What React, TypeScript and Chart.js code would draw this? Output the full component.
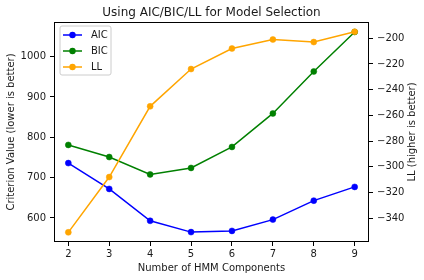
import React, { useEffect, useRef } from "react";
import { Chart, registerables } from "chart.js";

Chart.register(...registerables);

const components = [2, 3, 4, 5, 6, 7, 8, 9];
const aicValues = [736, 672, 593, 565, 568, 596, 643, 677];
const bicValues = [781, 751, 708, 724, 776, 859, 963, 1061];
const llValues = [-351, -308, -253, -224, -208, -201, -203, -195];
const leftTicks = [600, 700, 800, 900, 1000];
const rightTicks = [-340, -320, -300, -280, -260, -240, -220, -200];

const titleText = "Using AIC/BIC/LL for Model Selection";
const xLabel = "Number of HMM Components";
const yLeftLabel = "Criterion Value (lower is better)";
const yRightLabel = "LL (higher is better)";

const FONT = "'DejaVu Sans', sans-serif";
const TEXT = "#1a1a1a";

const frameAndLegend = {
  id: "frameAndLegend",
  afterDatasetsDraw(chart: any) {
    const { ctx, chartArea } = chart;
    ctx.save();
    // frame
    ctx.strokeStyle = "#000";
    ctx.lineWidth = 1;
    ctx.strokeRect(
      Math.round(chartArea.left) + 0.5,
      Math.round(chartArea.top) + 0.5,
      Math.round(chartArea.right - chartArea.left) - 1,
      Math.round(chartArea.bottom - chartArea.top) - 1
    );
    // title
    ctx.fillStyle = TEXT;
    ctx.font = `12px ${FONT}`;
    ctx.textAlign = "center";
    ctx.textBaseline = "middle";
    ctx.fillText(titleText, (chartArea.left + chartArea.right) / 2, 13);
    // right axis title, reading bottom to top
    ctx.save();
    ctx.font = `10px ${FONT}`;
    ctx.translate(412, (chartArea.top + chartArea.bottom) / 2);
    ctx.rotate(-Math.PI / 2);
    ctx.fillText(yRightLabel, 0, 0);
    ctx.restore();
    // legend
    const lx = chartArea.left + 6;
    const ly = chartArea.top + 4;
    const w = 51;
    const h = 49;
    const r = 2;
    ctx.beginPath();
    ctx.moveTo(lx + r, ly);
    ctx.lineTo(lx + w - r, ly);
    ctx.quadraticCurveTo(lx + w, ly, lx + w, ly + r);
    ctx.lineTo(lx + w, ly + h - r);
    ctx.quadraticCurveTo(lx + w, ly + h, lx + w - r, ly + h);
    ctx.lineTo(lx + r, ly + h);
    ctx.quadraticCurveTo(lx, ly + h, lx, ly + h - r);
    ctx.lineTo(lx, ly + r);
    ctx.quadraticCurveTo(lx, ly, lx + r, ly);
    ctx.closePath();
    ctx.fillStyle = "rgba(255,255,255,0.8)";
    ctx.fill();
    ctx.strokeStyle = "#cccccc";
    ctx.lineWidth = 1;
    ctx.stroke();
    chart.data.datasets.forEach((ds: any, i: number) => {
      const y = ly + 9 + i * 16;
      ctx.strokeStyle = ds.borderColor;
      ctx.lineWidth = 1.5;
      ctx.beginPath();
      ctx.moveTo(lx + 3, y);
      ctx.lineTo(lx + 22, y);
      ctx.stroke();
      ctx.fillStyle = ds.borderColor;
      ctx.beginPath();
      ctx.arc(lx + 12.5, y, 3.2, 0, Math.PI * 2);
      ctx.fill();
      ctx.fillStyle = TEXT;
      ctx.font = `10px ${FONT}`;
      ctx.textAlign = "left";
      ctx.textBaseline = "middle";
      ctx.fillText(ds.label, lx + 31, y + 0.5);
    });
    ctx.restore();
  },
};

export default function App() {
  const ref = useRef<HTMLCanvasElement>(null);
  useEffect(() => {
    document.body.style.margin = "0";
    const toXY = (vals: number[]) => vals.map((v, i) => ({ x: components[i], y: v }));
    const mk = (label: string, vals: number[], color: string, axis: string, order: number) => ({
      label,
      data: toXY(vals),
      borderColor: color,
      backgroundColor: color,
      borderWidth: 1.5,
      pointRadius: 3,
      pointBorderWidth: 0.5,
      pointHoverRadius: 3,
      yAxisID: axis,
      order,
      tension: 0,
    });
    const chart = new Chart(ref.current!, {
      type: "line",
      data: {
        datasets: [
          mk("AIC", aicValues, "#0000ff", "y", 3),
          mk("BIC", bicValues, "#008000", "y", 2),
          mk("LL", llValues, "#ffa500", "y1", 1),
        ],
      },
      options: {
        animation: false,
        responsive: false,
        maintainAspectRatio: false,
        layout: { padding: { top: 22, left: 0, right: 0, bottom: 0 } },
        plugins: {
          legend: { display: false },
          tooltip: { enabled: false },
          title: { display: false },
        },
        scales: {
          x: {
            type: "linear",
            min: 1.65,
            max: 9.35,
            afterBuildTicks: (s: any) => {
              s.ticks = components.map((v) => ({ value: v }));
            },
            afterFit: (s: any) => {
              s.height = 38;
            },
            grid: { drawOnChartArea: false, tickLength: 4, color: "#000", tickColor: "#000" },
            border: { display: false },
            ticks: { color: TEXT, font: { family: FONT, size: 10 }, padding: 2, maxRotation: 0, autoSkip: false },
            title: { display: true, text: xLabel, color: TEXT, font: { family: FONT, size: 10 }, padding: { top: 0, bottom: 6 } },
          },
          y: {
            type: "linear",
            position: "left",
            min: 540.5,
            max: 1085.6,
            afterBuildTicks: (s: any) => {
              s.ticks = leftTicks.map((v) => ({ value: v }));
            },
            afterFit: (s: any) => {
              s.width = 54;
            },
            grid: { drawOnChartArea: false, tickLength: 4, color: "#000", tickColor: "#000" },
            border: { display: false },
            ticks: { color: TEXT, font: { family: FONT, size: 10 }, padding: 4, callback: (v: any) => String(v) },
            title: { display: true, text: yLeftLabel, color: TEXT, font: { family: FONT, size: 10 }, padding: { top: 5, bottom: 0 } },
          },
          y1: {
            type: "linear",
            position: "right",
            min: -358.5,
            max: -187.4,
            afterBuildTicks: (s: any) => {
              s.ticks = rightTicks.map((v) => ({ value: v }));
            },
            afterFit: (s: any) => {
              s.width = 55;
            },
            grid: { drawOnChartArea: false, tickLength: 4, color: "#000", tickColor: "#000" },
            border: { display: false },
            ticks: {
              color: TEXT,
              font: { family: FONT, size: 10 },
              padding: 4,
              callback: (v: any) => String(v).replace("-", "\u2212"),
            },
            title: { display: false },
          },
        },
      },
      plugins: [frameAndLegend],
    } as any);
    return () => chart.destroy();
  }, []);
  return (
    <div style={{ width: 424, height: 280 }}>
      <canvas ref={ref} width={424} height={280} style={{ display: "block" }} />
    </div>
  );
}
